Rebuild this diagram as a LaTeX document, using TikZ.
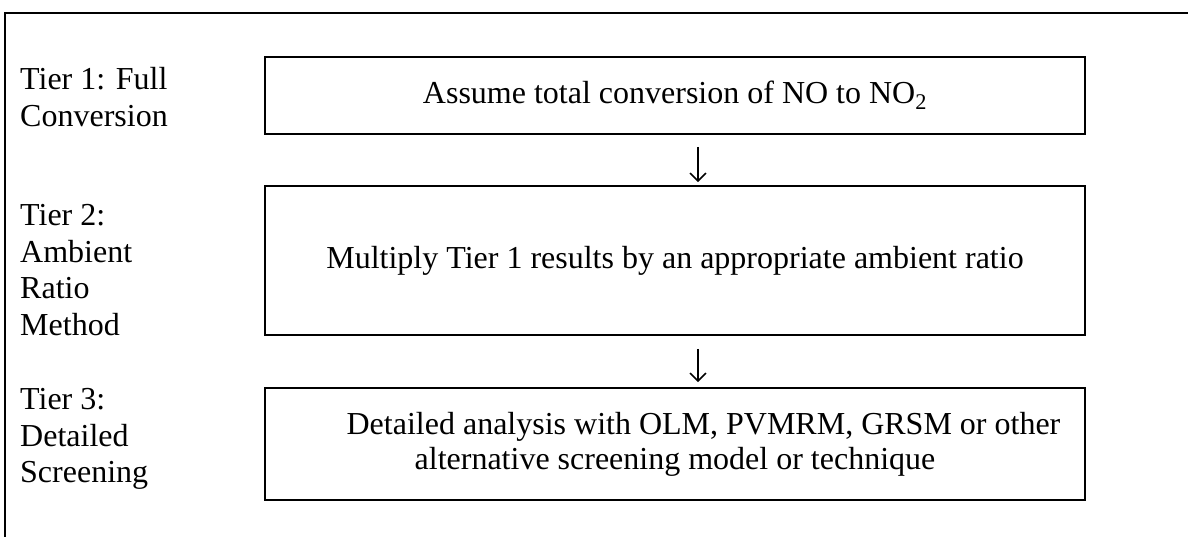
\documentclass[tikz,border=0pt]{standalone}
\usepackage{fontspec}
\setmainfont{Liberation Serif}
\usetikzlibrary{arrows.meta}
\begin{document}
\begin{tikzpicture}[x=1pt,y=-1pt,
  box/.style={draw, line width=1.8pt, minimum width=820pt, inner sep=0pt, align=center, font=\fontsize{32}{35}\selectfont},
  tier/.style={anchor=north west, align=left, inner sep=0pt, font=\fontsize{32}{36.8}\selectfont},
  flow/.style={line width=1.5pt, -{Straight Barb[length=8pt,width=16pt,line width=1.5pt]}}]
\useasboundingbox (0,0) rectangle (1188,537);
\draw[line width=2pt] (5,537) -- (5,13) -- (1188,13);
\node[box, minimum height=77pt] (b1) at (675,95.5) {Assume total conversion of NO to NO\textsubscript{2}};
\node[box, minimum height=149pt] (b2) at (675,260.5) {Multiply Tier 1 results by an appropriate ambient ratio};
\node[box, minimum height=112pt] (b3) at (675,444) {\hspace*{57pt}Detailed analysis with OLM, PVMRM, GRSM or other\\alternative screening model or technique};
\node[tier] (t1) at (20,67) {Tier 1: Full\\Conversion};
\node[tier] (t2) at (20,204) {Tier 2:\\Ambient\\Ratio\\Method};
\node[tier] (t3) at (20,388) {Tier 3:\\Detailed\\Screening};
\draw[flow] ([xshift=23pt,yshift=-12pt]b1.south) -- ([xshift=23pt,yshift=3pt]b2.north);
\draw[flow] ([xshift=23pt,yshift=-13pt]b2.south) -- ([xshift=23pt,yshift=5pt]b3.north);
\end{tikzpicture}
\end{document}
